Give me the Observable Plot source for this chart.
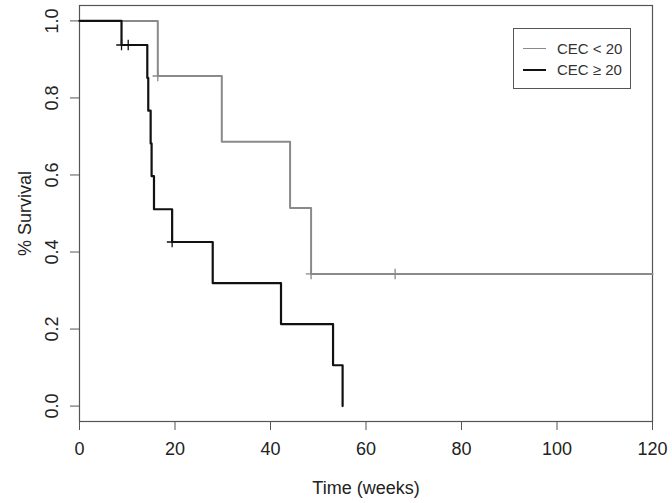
<!DOCTYPE html>
<html>
<head>
<meta charset="utf-8">
<script src="https://cdn.jsdelivr.net/npm/d3@7"></script>
<script src="https://cdn.jsdelivr.net/npm/@observablehq/plot@0.6"></script>
<style>
  html, body { margin: 0; padding: 0; background: #fff; }
  #wrap { position: relative; width: 672px; height: 503px; font-family: "Liberation Sans", Arial, sans-serif; }
  #legend { position: absolute; left: 513px; top: 28px; width: 116px; height: 59px; border: 1px solid #555; background: #fff; box-sizing: content-box; }
  .sw { position: absolute; left: 9px; width: 23px; }
  .lab { position: absolute; left: 43px; font-size: 15px; color: #333; white-space: nowrap; line-height: 20px; }
</style>
</head>
<body>
<div id="wrap">
  <div id="chart"></div>
  <div id="legend"></div>
</div>
<script>
// Group names
const groups = ["CEC < 20", "CEC ≥ 20"];
const groupColors = ["#8a8a8a", "#111111"];

// CEC < 20: step curve (time in weeks, survival)
const lowTime = [0, 16.4, 29.8, 44.1, 48.5, 120];
const lowSurv = [1.0, 0.857, 0.686, 0.514, 0.343, 0.343];
const lowCensorTime = [16.4, 48.5, 66.1];
const lowCensorSurv = [0.857, 0.343, 0.343];

// CEC >= 20: step curve
const highTime = [0, 8.8, 14.2, 14.4, 14.9, 15.1, 15.6, 19.4, 27.9, 42.2, 53.1, 55.1];
const highSurv = [1.0, 0.9375, 0.852, 0.767, 0.682, 0.597, 0.511, 0.426, 0.319, 0.213, 0.106, 0.0];
const highCensorTime = [8.8, 10.2, 19.4];
const highCensorSurv = [0.9375, 0.9375, 0.426];

// Axis ticks
const xTicks = [0, 20, 40, 60, 80, 100, 120];
const yTicks = [0.0, 0.2, 0.4, 0.6, 0.8, 1.0];
const xLabel = "Time (weeks)";
const yLabel = "% Survival";

const lowData = lowTime.map((t, i) => ({t, s: lowSurv[i]}));
const highData = highTime.map((t, i) => ({t, s: highSurv[i]}));
const lowCens = lowCensorTime.map((t, i) => ({t, s: lowCensorSurv[i]}));
const highCens = highCensorTime.map((t, i) => ({t, s: highCensorSurv[i]}));

const textColor = "#222";
const axisColor = "#555";
const fs = 18;

const chart = Plot.plot({
  width: 672,
  height: 503,
  marginLeft: 79,
  marginRight: 20,
  marginTop: 5,
  marginBottom: 82,
  style: { fontFamily: "'Liberation Sans', Arial, sans-serif", fontSize: fs + "px", color: textColor, background: "#fff" },
  x: { domain: [0, 120] },
  y: { domain: [-0.04, 1.04] },
  marks: [
    Plot.frame({ stroke: axisColor, strokeWidth: 1.2 }),
    Plot.axisX({ ticks: xTicks, tickSize: 9, tickPadding: 12, stroke: axisColor, fill: textColor, fontSize: fs, label: null, tickFormat: d => String(d) }),
    Plot.axisY({ ticks: yTicks, tickSize: 9, text: null, stroke: axisColor, label: null }),
    Plot.text(yTicks, { y: d => d, frameAnchor: "left", dx: -27, rotate: -90, textAnchor: "middle", lineAnchor: "middle", text: d => d.toFixed(1), fill: textColor, fontSize: fs }),
    Plot.text([yLabel], { frameAnchor: "left", dx: -54, rotate: -90, textAnchor: "middle", lineAnchor: "middle", text: d => d, fill: textColor, fontSize: fs }),
    Plot.text([xLabel], { frameAnchor: "bottom", dy: 67, textAnchor: "middle", lineAnchor: "middle", text: d => d, fill: textColor, fontSize: fs }),
    Plot.line(lowData, { x: "t", y: "s", curve: "step-after", stroke: groupColors[0], strokeWidth: 2 }),
    Plot.line(highData, { x: "t", y: "s", curve: "step-after", stroke: groupColors[1], strokeWidth: 2.2 }),
    Plot.dot(lowCens, { x: "t", y: "s", symbol: "plus", r: 3.5, stroke: groupColors[0], strokeWidth: 1.3 }),
    Plot.dot(highCens, { x: "t", y: "s", symbol: "plus", r: 3.5, stroke: groupColors[1], strokeWidth: 1.3 })
  ]
});
document.getElementById("chart").appendChild(chart);

const legend = document.getElementById("legend");
groups.forEach((g, i) => {
  const top = 10 + i * 21;
  const sw = document.createElement("div");
  sw.className = "sw";
  sw.style.top = (top + 9) + "px";
  sw.style.borderTop = (i === 0 ? 1.5 : 2) + "px solid " + groupColors[i];
  legend.appendChild(sw);
  const lab = document.createElement("div");
  lab.className = "lab";
  lab.style.top = top + "px";
  lab.textContent = g;
  legend.appendChild(lab);
});
</script>
</body>
</html>
